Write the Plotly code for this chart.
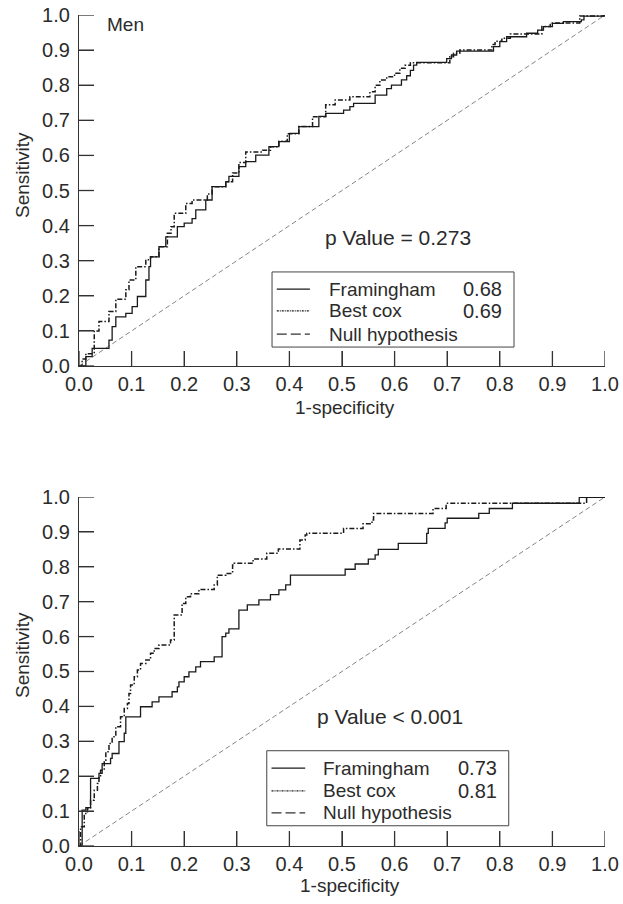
import plotly.graph_objects as go
from plotly.subplots import make_subplots

# ---------------- data ----------------
tick_vals = [0.0, 0.1, 0.2, 0.3, 0.4, 0.5, 0.6, 0.7, 0.8, 0.9, 1.0]
tick_text = ["0.0", "0.1", "0.2", "0.3", "0.4", "0.5", "0.6", "0.7", "0.8", "0.9", "1.0"]

series_names = ["Framingham", "Best cox", "Null hypothesis"]
auc_men = ["0.68", "0.69"]
auc_women = ["0.73", "0.81"]
p_men = "p Value = 0.273"
p_women = "p Value < 0.001"

men_fram_x = [0, 0.013, 0.025, 0.057, 0.063, 0.07, 0.089, 0.101, 0.111, 0.127, 0.133, 0.136, 0.152,
              0.165, 0.187, 0.2, 0.215, 0.222, 0.241, 0.253, 0.279, 0.285, 0.304, 0.317, 0.336, 0.361,
              0.38, 0.4, 0.418, 0.456, 0.469, 0.503, 0.515, 0.522, 0.563, 0.585, 0.594, 0.613, 0.623,
              0.63, 0.636, 0.642, 0.699, 0.708, 0.718, 0.788, 0.80, 0.813, 0.851, 0.872, 0.883, 0.90,
              0.921, 0.955, 0.96, 0.997, 1.0]
men_fram_y = [0, 0.027, 0.05, 0.074, 0.112, 0.14, 0.15, 0.169, 0.198, 0.245, 0.283, 0.311, 0.34,
              0.368, 0.397, 0.407, 0.42, 0.445, 0.473, 0.511, 0.525, 0.54, 0.568, 0.582, 0.601, 0.625,
              0.639, 0.663, 0.682, 0.711, 0.72, 0.729, 0.739, 0.748, 0.772, 0.79, 0.80, 0.815, 0.827,
              0.842, 0.857, 0.865, 0.876, 0.886, 0.897, 0.91, 0.924, 0.938, 0.948, 0.957, 0.967, 0.976,
              0.981, 0.986, 0.997, 1.0, 1.0]

men_cox_x = [0, 0.006, 0.013, 0.029, 0.038, 0.057, 0.07, 0.089, 0.095, 0.108, 0.127, 0.136, 0.152,
             0.168, 0.175, 0.181, 0.203, 0.215, 0.244, 0.253, 0.279, 0.292, 0.304, 0.317, 0.349, 0.364,
             0.38, 0.396, 0.418, 0.444, 0.469, 0.487, 0.515, 0.553, 0.563, 0.572, 0.585, 0.60, 0.61,
             0.62, 0.63, 0.705, 0.712, 0.724, 0.785, 0.791, 0.804, 0.82, 0.88, 0.896, 0.952, 1.0]
men_cox_y = [0, 0.02, 0.035, 0.10, 0.127, 0.155, 0.19, 0.217, 0.245, 0.283, 0.303, 0.311, 0.34,
             0.378, 0.397, 0.435, 0.463, 0.473, 0.49, 0.511, 0.525, 0.55, 0.58, 0.61, 0.615, 0.625,
             0.64, 0.662, 0.682, 0.71, 0.744, 0.758, 0.767, 0.781, 0.80, 0.815, 0.824, 0.834, 0.848,
             0.857, 0.864, 0.881, 0.891, 0.90, 0.916, 0.925, 0.934, 0.946, 0.967, 0.977, 0.997, 1.0]

women_fram_x = [0, 0.006, 0.013, 0.022, 0.038, 0.044, 0.06, 0.063, 0.076, 0.086, 0.089, 0.117, 0.139,
                0.152, 0.177, 0.187, 0.19, 0.2, 0.209, 0.222, 0.231, 0.257, 0.272, 0.279, 0.285, 0.304,
                0.32, 0.342, 0.364, 0.38, 0.393, 0.402, 0.506, 0.525, 0.55, 0.563, 0.569, 0.607, 0.661,
                0.664, 0.696, 0.70, 0.76, 0.78, 0.824, 0.951, 1.0]
women_fram_y = [0, 0.103, 0.11, 0.194, 0.208, 0.236, 0.251, 0.265, 0.299, 0.323, 0.37, 0.399, 0.413,
                0.427, 0.442, 0.456, 0.47, 0.485, 0.499, 0.513, 0.528, 0.542, 0.60, 0.61, 0.622, 0.676,
                0.691, 0.705, 0.72, 0.734, 0.748, 0.776, 0.793, 0.808, 0.822, 0.834, 0.85, 0.867, 0.896,
                0.91, 0.926, 0.939, 0.953, 0.967, 0.982, 0.999, 1.0]

women_cox_x = [0, 0.003, 0.01, 0.016, 0.022, 0.029, 0.035, 0.038, 0.041, 0.048, 0.051, 0.057, 0.063,
               0.07, 0.079, 0.086, 0.092, 0.095, 0.098, 0.105, 0.111, 0.117, 0.127, 0.136, 0.143, 0.152,
               0.174, 0.181, 0.196, 0.203, 0.212, 0.228, 0.257, 0.263, 0.279, 0.292, 0.295, 0.331, 0.357,
               0.379, 0.42, 0.43, 0.433, 0.503, 0.54, 0.557, 0.56, 0.673, 0.698, 0.965, 1.0]
women_cox_y = [0, 0.055, 0.093, 0.107, 0.131, 0.16, 0.179, 0.198, 0.217, 0.246, 0.27, 0.294, 0.313,
               0.342, 0.37, 0.394, 0.408, 0.437, 0.461, 0.485, 0.504, 0.523, 0.533, 0.552, 0.566, 0.576,
               0.59, 0.662, 0.695, 0.714, 0.723, 0.735, 0.748, 0.776, 0.781, 0.805, 0.81, 0.822, 0.839,
               0.851, 0.877, 0.891, 0.896, 0.91, 0.923, 0.934, 0.953, 0.967, 0.982, 0.999, 1.0]

null_x = [0, 1]
null_y = [0, 1]

# ---------------- styles ----------------
FONT = "Liberation Sans, Arial, sans-serif"
TXT = "#2b2b2b"
FS = 19
AXC = "#333333"
FRAM = dict(color="#1a1a1a", width=1.3)
COX = dict(color="#1a1a1a", width=1.5, dash="5px,2px,1.5px,2px")
NULL = dict(color="#666666", width=0.8, dash="5px,3px")
TICK_PX = 15          # inside tick length in pixels
PLOT_W = 526          # plot width in pixels
PLOT_H = [351, 349]   # plot heights in pixels (top, bottom)

fig = make_subplots(rows=2, cols=1, vertical_spacing=0.1576, row_heights=[0.4224, 0.42])

panels = [
    (1, men_fram_x, men_fram_y, men_cox_x, men_cox_y),
    (2, women_fram_x, women_fram_y, women_cox_x, women_cox_y),
]
for row, fx, fy, cx, cy in panels:
    fig.add_trace(go.Scatter(x=null_x, y=null_y, mode="lines", line=NULL,
                             showlegend=False, hoverinfo="skip"), row=row, col=1)
    fig.add_trace(go.Scatter(x=fx, y=fy, mode="lines", line=dict(**FRAM, shape="hv"),
                             showlegend=False, name=series_names[0]), row=row, col=1)
    fig.add_trace(go.Scatter(x=cx, y=cy, mode="lines", line=dict(**COX, shape="hv"),
                             showlegend=False, name=series_names[1]), row=row, col=1)

axis_common = dict(
    range=[0, 1], tickvals=tick_vals, ticktext=tick_text, ticks="inside", ticklen=TICK_PX,
    tickwidth=1.3, tickcolor=AXC, showline=True, linecolor=AXC, linewidth=1.3,
    showgrid=False, zeroline=False, tickfont=dict(family=FONT, size=20, color=TXT),
    fixedrange=True, automargin=False,
)
fig.update_xaxes(ticklabelstandoff=0, **axis_common)
fig.update_yaxes(ticklabelstandoff=4, **axis_common)
fig.update_layout(yaxis=dict(domain=[0.5776, 1]), yaxis2=dict(domain=[0, 0.42]))

fig.update_layout(
    template="none",
    width=623, height=904,
    margin=dict(l=79, r=18, t=15, b=58),
    paper_bgcolor="white", plot_bgcolor="white",
    font=dict(family=FONT, size=FS, color=TXT),
    showlegend=False,
)

annotations = []
shapes = []

# inside tick marks as layout shapes, one per tick value on each axis
for xr, yr, ph in (("x", "y", PLOT_H[0]), ("x2", "y2", PLOT_H[1])):
    for v in tick_vals:
        shapes.append(dict(type="line", xref=xr, yref=yr, x0=v, x1=v, y0=0, y1=TICK_PX / ph,
                           line=dict(color=AXC, width=1.3), layer="above"))
        shapes.append(dict(type="line", xref=xr, yref=yr, x0=0, x1=TICK_PX / PLOT_W, y0=v, y1=v,
                           line=dict(color=AXC, width=1.3), layer="above"))

legend_specs = [
    ("x", "y", (0.367, 0.054, 0.827, 0.268), (0.376, 0.439), [0.219, 0.157, 0.091],
     0.471, 0.726, auc_men, (0.464, 0.365), p_men),
    ("x2", "y2", (0.357, 0.058, 0.817, 0.273), (0.366, 0.430), [0.223, 0.158, 0.095],
     0.461, 0.716, auc_women, (0.449, 0.370), p_women),
]
for xr, yr, box, sx, rows, tx, vx, auc, ppos, ptxt in legend_specs:
    shapes.append(dict(type="rect", xref=xr, yref=yr, x0=box[0], y0=box[1], x1=box[2], y1=box[3],
                       line=dict(color="#444444", width=1), fillcolor="white", layer="above"))
    styles = [dict(color="#1a1a1a", width=1.3),
              dict(color="#1a1a1a", width=1.3, dash="2px,1px,1px,1px"),
              dict(color="#333333", width=1.2, dash="10px,4px")]
    for i, ry in enumerate(rows):
        shapes.append(dict(type="line", xref=xr, yref=yr, x0=sx[0], x1=sx[1], y0=ry, y1=ry,
                           line=styles[i], layer="above"))
        annotations.append(dict(xref=xr, yref=yr, x=tx, y=ry, text=series_names[i], showarrow=False,
                                xanchor="left", yanchor="middle", font=dict(size=FS)))
        if i < 2:
            annotations.append(dict(xref=xr, yref=yr, x=vx, y=ry, text=auc[i], showarrow=False,
                                    xanchor="left", yanchor="middle", font=dict(size=20)))
    annotations.append(dict(xref=xr, yref=yr, x=ppos[0], y=ppos[1], text=ptxt, showarrow=False,
                            xanchor="left", yanchor="middle", font=dict(size=21)))

annotations += [
    dict(xref="x", yref="y", x=0.049, y=0.974, text="Men", showarrow=False,
         xanchor="left", yanchor="middle", font=dict(size=FS)),
    dict(xref="x2", yref="y2", x=0.049, y=1.046, text="Women", showarrow=False,
         xanchor="left", yanchor="middle", font=dict(size=FS)),
    dict(xref="paper", yref="paper", x=(22 - 79) / 526, y=(846 - 175) / 831, text="Sensitivity",
         textangle=-90, showarrow=False, xanchor="center", yanchor="middle", font=dict(size=FS)),
    dict(xref="paper", yref="paper", x=(22 - 79) / 526, y=(846 - 655) / 831, text="Sensitivity",
         textangle=-90, showarrow=False, xanchor="center", yanchor="middle", font=dict(size=FS)),
    dict(xref="paper", yref="paper", x=(345 - 79) / 526, y=(846 - 407) / 831, text="1-specificity",
         showarrow=False, xanchor="center", yanchor="middle", font=dict(size=FS)),
    dict(xref="paper", yref="paper", x=(350 - 79) / 526, y=(846 - 885) / 831, text="1-specificity",
         showarrow=False, xanchor="center", yanchor="middle", font=dict(size=FS)),
]

fig.update_layout(annotations=annotations, shapes=shapes)
fig.write_html("out.html", post_script="document.body.style.margin='0';",
               config={"displayModeBar": False})
